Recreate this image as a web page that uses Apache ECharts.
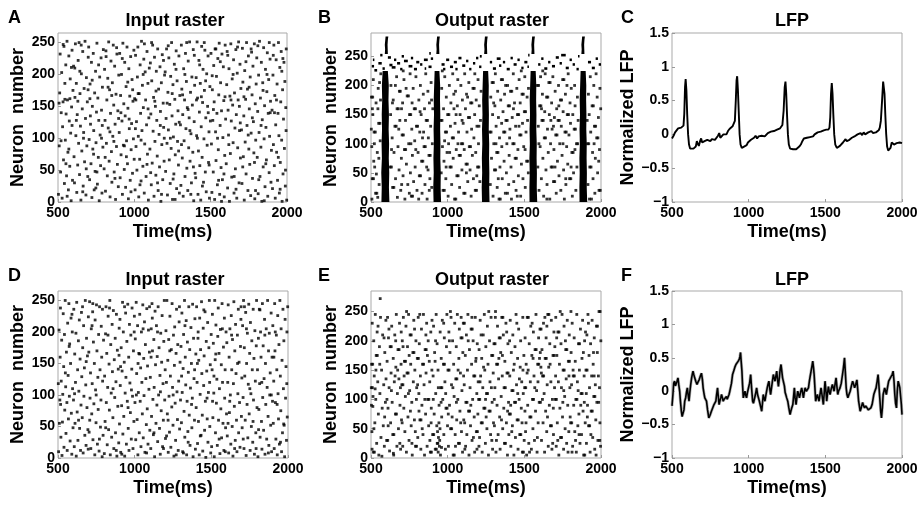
<!DOCTYPE html>
<html>
<head>
<meta charset="utf-8">
<script src="https://cdn.jsdelivr.net/npm/echarts@6/dist/echarts.min.js"></script>
<style>
  html, body { margin: 0; padding: 0; background: #fff; }
  #main { width: 921px; height: 511px; }
</style>
</head>
<body>
<div id="main"></div>
<script>
// spike times, flat [time(ms), neuron, time, neuron, ...]
var inputA = [
503,12,508,88,511,171,514,232,517,47,521,140,524,203,527,6,530,118,533,157,536,66,539,244,542,29,545,186,548,97,551,215,553,138,556,41,559,252,562,160,565,78,568,19,571,229,574,127,577,56,580,193,583,108,586,2,589,149,592,238,595,34,598,175,520,96,545,161,571,83,588,211,507,155,560,9,592,120,534,247,578,162,552,60,
602,213,605,71,608,30,611,164,614,248,617,104,620,186,623,15,626,137,629,58,632,222,635,92,638,250,641,43,644,170,647,119,650,3,653,201,656,80,659,146,662,236,665,25,668,109,671,178,674,63,677,252,680,131,683,11,686,195,689,88,692,157,695,40,698,227,610,210,630,158,652,246,667,100,685,52,643,205,620,128,697,176,662,16,
701,243,704,98,707,35,710,185,713,122,716,60,719,219,722,7,725,150,728,83,731,233,734,112,737,19,740,171,743,48,746,205,749,93,752,141,755,249,758,28,761,163,764,70,767,128,770,2,773,196,776,105,779,57,782,226,785,144,788,14,791,180,794,86,797,239,712,135,733,75,748,22,766,215,785,100,709,162,755,47,790,120,724,191,
802,52,805,208,808,128,811,17,814,237,817,92,820,160,823,41,826,194,829,116,832,251,835,64,838,176,841,8,844,139,847,221,850,79,853,31,856,187,859,103,862,246,865,152,868,47,871,213,874,122,877,4,880,169,883,87,886,232,889,59,892,143,895,24,898,199,815,228,840,110,866,95,884,242,809,70,852,167,873,37,897,131,828,180,
901,109,904,233,907,38,910,167,913,74,916,200,919,127,922,12,925,249,928,89,931,154,934,51,937,219,940,135,943,23,946,181,949,96,952,243,955,60,958,147,961,5,964,209,967,115,970,166,973,34,976,228,979,82,982,123,985,192,988,45,991,158,994,99,997,238,912,140,935,88,957,188,978,16,999,67,921,225,948,71,966,130,989,176,
1002,162,1005,19,1008,230,1011,87,1014,126,1017,50,1020,196,1023,243,1026,103,1029,8,1032,170,1035,67,1038,215,1041,139,1044,33,1047,252,1050,112,1053,183,1056,56,1059,148,1062,224,1065,14,1068,91,1071,204,1074,160,1077,40,1080,121,1083,236,1086,75,1089,186,1092,3,1095,132,1098,210,1010,160,1025,170,1044,97,1066,248,1083,59,1007,115,1037,27,1058,200,1090,146,
1102,83,1105,218,1108,138,1111,27,1114,190,1117,61,1120,246,1123,111,1126,164,1129,9,1132,227,1135,95,1138,150,1141,42,1144,205,1147,128,1150,72,1153,240,1156,18,1159,177,1162,106,1165,55,1168,212,1171,142,1174,1,1177,187,1180,90,1183,231,1186,35,1189,155,1192,117,1195,64,1198,199,1113,250,1134,158,1152,30,1170,120,1191,222,1107,46,1142,174,1178,12,1196,100,
1202,204,1205,48,1208,131,1211,240,1214,92,1217,11,1220,172,1223,113,1226,226,1229,66,1232,153,1235,29,1238,197,1241,84,1244,250,1247,135,1250,4,1253,184,1256,102,1259,44,1262,216,1265,161,1268,74,1271,122,1274,237,1277,21,1280,190,1283,95,1286,143,1289,58,1292,229,1295,14,1298,167,1215,155,1236,100,1254,36,1273,208,1290,80,1222,245,1248,170,1267,4,1294,125,
1302,121,1305,26,1308,246,1311,177,1314,69,1317,137,1320,9,1323,209,1326,96,1329,160,1332,40,1335,233,1338,115,1341,189,1344,53,1347,148,1350,18,1353,221,1356,85,1359,132,1362,251,1365,64,1368,172,1371,107,1374,30,1377,196,1380,152,1383,78,1386,239,1389,2,1392,126,1395,183,1398,45,1309,90,1331,200,1352,145,1370,12,1393,230,1316,168,1343,250,1364,112,1387,55,
1402,38,1405,195,1408,104,1411,251,1414,163,1417,12,1420,80,1423,222,1426,141,1429,57,1432,186,1435,3,1438,118,1441,244,1444,70,1447,156,1450,208,1453,31,1456,99,1459,175,1462,238,1465,47,1468,132,1471,16,1474,201,1477,89,1480,150,1483,229,1486,62,1489,110,1492,6,1495,181,1498,127,1407,160,1428,215,1446,25,1467,190,1484,140,1413,100,1439,165,1458,250,1490,58,
1502,233,1505,91,1508,15,1511,176,1514,128,1517,47,1520,214,1523,157,1526,4,1529,240,1532,110,1535,65,1538,197,1541,139,1544,27,1547,225,1550,82,1553,168,1556,249,1559,12,1562,120,1565,187,1568,54,1571,143,1574,232,1577,35,1580,101,1583,212,1586,159,1589,8,1592,73,1595,246,1598,130,1510,198,1534,240,1552,34,1571,1,1594,165,1518,145,1545,100,1563,220,1587,44,
1602,60,1605,184,1608,236,1611,22,1614,144,1617,105,1620,209,1623,1,1626,166,1629,76,1632,248,1635,127,1638,39,1641,193,1644,152,1647,93,1650,223,1653,14,1656,171,1659,116,1662,52,1665,239,1668,137,1671,6,1674,202,1677,85,1680,160,1683,251,1686,30,1689,112,1692,216,1695,69,1698,178,1612,230,1633,160,1654,40,1676,243,1694,124,1619,90,1647,200,1666,20,1688,150,
1702,113,1705,29,1708,241,1711,188,1714,71,1717,135,1720,3,1723,206,1726,94,1729,161,1732,44,1735,250,1738,120,1741,177,1744,18,1747,229,1750,83,1753,146,1756,59,1759,196,1762,10,1765,108,1768,235,1771,168,1774,37,1777,213,1780,126,1783,77,1786,248,1789,5,1792,154,1795,97,1798,185,1710,55,1731,220,1752,180,1773,132,1794,18,1718,165,1746,105,1765,240,1787,62,
1802,226,1805,70,1808,142,1811,13,1814,199,1817,109,1820,252,1823,40,1826,163,1829,86,1832,219,1835,1,1838,129,1841,187,1844,55,1847,242,1850,99,1853,151,1856,24,1859,208,1862,117,1865,66,1868,173,1871,234,1874,9,1877,139,1880,192,1883,46,1886,103,1889,224,1892,158,1895,31,1898,81,1809,245,1830,120,1851,2,1869,200,1890,140,1815,35,1843,175,1861,60,1884,250,
1902,144,1905,21,1908,199,1911,90,1914,246,1917,57,1920,167,1923,6,1926,121,1929,223,1932,78,1935,185,1938,34,1941,139,1944,250,1947,104,1950,14,1953,211,1956,62,1959,157,1962,236,1965,97,1968,1,1971,176,1974,44,1977,130,1980,219,1983,84,1986,189,1989,25,1992,148,1995,240,1998,3,1910,230,1931,160,1955,20,1973,225,1994,112,1918,140,1943,70,1966,205,1990,50
];

var inputD = [
502,118,504,10,507,203,509,55,512,92,514,160,516,238,519,33,521,122,524,187,526,4,529,57,531,101,534,229,537,145,539,17,542,196,544,76,547,250,550,113,552,39,555,168,558,88,560,12,563,214,566,131,568,62,571,245,574,98,576,181,579,27,582,150,585,222,587,71,590,6,593,200,595,110,598,48,517,85,548,135,573,177,591,228,
601,92,603,236,606,18,609,165,611,55,614,120,617,198,619,3,622,247,625,73,628,140,630,28,633,186,636,106,639,219,641,47,644,157,647,12,650,84,653,231,655,129,658,64,661,175,664,8,667,210,669,98,672,143,675,36,678,250,681,116,683,20,686,190,689,80,692,162,695,45,698,224,608,102,634,60,660,240,684,153,697,14,
701,168,703,41,706,248,709,95,712,135,714,15,717,205,720,70,723,118,726,232,728,29,731,184,734,86,737,150,740,5,742,219,745,108,748,56,751,243,754,170,757,22,760,128,762,77,765,196,768,11,771,240,774,140,777,49,780,92,782,209,785,160,788,2,791,122,794,36,797,187,707,60,727,245,749,100,770,30,790,236,722,210,
802,7,804,130,807,58,810,197,813,240,815,88,818,166,821,21,824,112,827,225,830,45,833,149,835,76,838,250,841,5,844,180,847,103,850,33,853,212,855,137,858,64,861,234,864,15,867,156,870,96,873,190,875,40,878,121,881,228,884,3,887,171,890,82,893,141,896,24,899,206,811,48,836,238,859,110,880,12,898,163,826,195,
901,54,904,220,906,115,909,9,912,175,915,83,918,138,921,247,923,38,926,200,929,66,932,152,935,3,938,103,941,230,943,128,946,22,949,185,952,90,955,244,958,47,961,160,963,12,966,212,969,119,972,72,975,195,978,30,981,141,983,238,986,98,989,15,992,170,995,58,998,225,908,145,934,240,957,80,979,108,997,200,916,6,
1002,88,1004,189,1007,29,1010,247,1013,134,1016,61,1019,210,1021,5,1024,104,1027,166,1030,40,1033,228,1036,90,1039,143,1041,18,1044,200,1047,120,1050,70,1053,243,1056,32,1059,158,1061,99,1064,216,1067,9,1070,180,1073,126,1076,53,1079,237,1082,78,1084,146,1087,22,1090,203,1093,109,1096,168,1099,44,1011,100,1032,165,1055,205,1078,8,1097,240,1022,150,
1102,128,1105,15,1108,205,1110,66,1113,245,1116,170,1119,93,1122,37,1125,188,1127,112,1130,2,1133,233,1136,148,1139,55,1142,210,1145,84,1147,161,1150,26,1153,240,1156,100,1159,175,1162,47,1165,131,1167,6,1170,198,1173,75,1176,152,1179,226,1182,18,1185,118,1187,60,1190,185,1193,250,1196,92,1199,140,1107,160,1126,40,1149,200,1168,105,1188,15,1115,222,
1201,31,1204,202,1207,120,1210,250,1213,70,1216,155,1219,9,1222,188,1224,98,1227,41,1230,225,1233,130,1236,17,1239,172,1242,81,1244,245,1247,112,1250,52,1253,195,1256,3,1259,147,1261,208,1264,87,1267,28,1270,166,1273,236,1276,105,1279,61,1281,180,1284,12,1287,122,1290,216,1293,46,1296,152,1299,92,1208,35,1229,170,1251,100,1271,5,1292,240,1218,60,
1302,177,1305,56,1308,230,1310,104,1313,10,1316,142,1319,196,1322,74,1325,250,1327,33,1330,160,1333,116,1336,218,1339,5,1342,90,1344,184,1347,42,1350,136,1353,240,1356,68,1359,172,1361,20,1364,111,1367,207,1370,150,1373,48,1376,95,1378,244,1381,2,1384,190,1387,126,1390,60,1393,221,1396,14,1399,165,1306,130,1328,210,1349,25,1371,85,1391,140,1318,8,
1401,80,1404,240,1407,120,1410,23,1413,190,1416,58,1418,155,1421,5,1424,222,1427,101,1430,172,1433,36,1436,248,1438,134,1441,68,1444,11,1447,206,1450,115,1453,162,1456,44,1459,232,1461,90,1464,1,1467,185,1470,138,1473,62,1476,215,1478,25,1481,104,1484,175,1487,250,1490,50,1493,148,1496,8,1499,196,1409,150,1428,35,1451,235,1472,95,1489,120,1414,200,
1502,18,1505,140,1507,228,1510,64,1513,182,1516,103,1519,2,1522,250,1525,156,1527,40,1530,211,1533,87,1536,125,1539,20,1542,193,1545,238,1547,60,1550,166,1553,110,1556,7,1559,204,1562,78,1565,148,1567,32,1570,245,1573,120,1576,55,1579,176,1582,12,1585,222,1587,95,1590,140,1593,48,1596,200,1599,70,1508,90,1529,165,1551,30,1572,205,1591,10,1517,130,
1601,183,1604,35,1607,120,1610,243,1613,8,1616,160,1618,72,1621,205,1624,100,1627,22,1630,226,1633,140,1636,50,1638,188,1641,3,1644,118,1647,248,1650,82,1653,170,1656,28,1658,212,1661,134,1664,60,1667,10,1670,195,1673,102,1676,236,1678,40,1681,152,1684,88,1687,17,1690,177,1693,220,1696,66,1699,127,1609,55,1632,195,1652,15,1671,150,1694,240,1620,90,
1701,48,1704,210,1707,96,1710,250,1713,15,1715,175,1718,130,1721,60,1724,231,1727,4,1730,150,1733,85,1735,198,1738,32,1741,117,1744,244,1747,70,1750,166,1753,12,1755,215,1758,102,1761,50,1764,186,1767,140,1770,25,1773,236,1775,92,1778,158,1781,6,1784,202,1787,122,1790,40,1793,178,1795,250,1798,80,1708,30,1729,205,1751,110,1772,58,1792,15,1716,240,
1801,140,1804,2,1807,190,1810,77,1813,236,1815,118,1818,33,1821,200,1824,160,1827,58,1830,14,1833,245,1835,96,1838,178,1841,44,1844,126,1847,220,1850,6,1853,150,1855,85,1858,205,1861,30,1864,112,1867,250,1870,66,1873,170,1875,20,1878,198,1881,100,1884,135,1887,52,1890,230,1893,10,1896,160,1899,90,1808,45,1829,120,1849,195,1872,8,1891,100,1817,235,
1901,210,1904,55,1907,122,1910,15,1913,245,1915,170,1918,88,1921,30,1924,195,1927,140,1930,5,1933,226,1935,102,1938,62,1941,180,1944,22,1947,250,1950,130,1953,75,1955,205,1958,10,1961,155,1964,40,1967,236,1970,110,1973,186,1975,52,1978,2,1981,220,1984,95,1987,145,1990,28,1993,200,1995,65,1998,240,1908,160,1929,85,1951,25,1972,54,1992,118,1917,200
];

// output raster B: background spikes (0-225), bursts in 225-255, synchronous volleys
var outputB = [
503,180,511,180,505,95,508,40,516,40,512,150,515,210,520,120,528,120,524,60,530,15,538,15,533,170,541,85,547,195,550,135,558,135,553,30,560,105,564,220,506,5,518,70,535,48,545,160,556,205,502,125,509,160,522,100,544,8,551,75,562,175,
625,60,633,60,628,150,630,200,638,110,641,25,649,25,645,175,650,85,656,130,664,130,660,40,667,215,670,160,678,160,672,8,676,95,683,55,685,190,691,190,688,140,694,20,698,75,703,115,711,115,706,170,709,45,715,210,718,90,726,90,721,5,725,140,731,65,736,182,744,182,740,30,746,100,751,150,759,150,755,220,757,50,763,10,771,10,766,125,770,80,775,195,778,35,782,160,790,160,785,105,788,60,793,215,796,130,804,130,800,20,807,85,812,175,815,45,823,45,818,120,822,200,827,150,830,70,838,70,833,15,836,110,841,185,846,95,854,95,849,160,852,30,857,220,860,140,868,140,863,60,866,5,871,190,874,110,878,80,886,80,881,170,884,40,889,130,892,205,896,25,900,100,903,160,634,90,659,200,681,125,699,160,729,195,750,15,768,170,792,90,811,5,843,120,872,55,895,175,640,170,700,30,760,100,820,155,880,20,710,225,
955,140,963,140,958,50,961,195,966,95,970,20,978,20,973,160,976,70,981,215,985,120,993,120,988,40,991,180,996,85,1000,150,1008,150,1003,10,1006,100,1011,200,1015,60,1023,60,1018,130,1021,170,1026,30,1030,110,1038,110,1033,220,1036,75,1041,160,1045,5,1053,5,1048,135,1051,190,1056,90,1060,45,1068,45,1063,165,1066,210,1071,120,1075,80,1083,80,1078,25,1081,150,1086,200,1090,100,1098,100,1093,55,1096,175,1101,135,1105,15,1113,15,1108,90,1111,220,1116,160,1120,65,1128,65,1123,185,1126,120,1131,35,1135,145,1143,145,1138,205,1141,95,1146,55,1150,170,1158,170,1153,10,1156,125,1161,80,1165,195,1173,195,1168,40,1171,110,1176,150,1180,20,1188,20,1183,85,1186,175,1191,130,1195,60,1203,60,1198,210,1201,100,1206,165,1210,35,1214,140,1218,190,965,225,990,60,1013,85,1040,185,1067,100,1094,140,1122,50,1149,95,1177,220,1204,130,980,105,1055,150,1130,180,1190,45,
1275,120,1283,120,1278,30,1281,180,1286,75,1290,205,1298,205,1293,150,1296,10,1301,100,1305,55,1313,55,1308,165,1311,220,1316,130,1320,85,1328,85,1323,25,1326,190,1331,145,1335,5,1343,5,1338,110,1341,60,1346,175,1350,210,1358,210,1353,95,1356,40,1361,155,1365,120,1373,120,1368,70,1371,185,1376,15,1380,140,1388,140,1383,50,1386,100,1391,200,1395,165,1403,165,1398,30,1401,80,1406,125,1410,190,1418,190,1413,60,1416,5,1421,145,1425,100,1433,100,1428,220,1431,35,1436,170,1440,75,1448,75,1443,130,1446,20,1451,195,1455,150,1463,150,1458,90,1461,45,1466,210,1470,115,1478,115,1473,170,1476,10,1481,65,1485,185,1493,185,1488,135,1491,40,1496,95,1500,155,1508,155,1503,215,1506,25,1511,120,1515,70,1523,70,1518,180,1521,140,1526,50,1300,170,1330,40,1352,135,1378,200,1404,110,1429,160,1454,10,1480,225,1505,90,1527,195,1315,100,1390,15,1465,130,
1585,200,1593,200,1588,60,1591,130,1596,20,1600,165,1608,165,1603,95,1606,215,1611,40,1615,140,1623,140,1618,185,1621,75,1626,10,1630,110,1638,110,1633,155,1636,220,1641,55,1645,180,1653,180,1648,30,1651,125,1656,85,1660,205,1668,205,1663,150,1666,5,1671,100,1675,60,1683,60,1678,170,1681,125,1686,215,1690,35,1698,35,1693,90,1696,145,1701,190,1705,115,1713,115,1708,15,1711,160,1716,70,1720,140,1728,140,1723,200,1726,45,1731,100,1735,175,1743,175,1738,20,1741,130,1746,80,1750,210,1758,210,1753,155,1756,55,1761,5,1765,120,1773,120,1768,185,1771,30,1776,95,1780,150,1788,150,1783,65,1786,220,1791,115,1795,40,1803,40,1798,170,1801,135,1806,195,1810,85,1818,85,1813,10,1816,150,1821,50,1825,125,1833,125,1828,200,1831,165,1836,20,1840,100,1848,100,1843,60,1846,180,1851,140,1595,100,1620,225,1647,5,1673,140,1700,60,1725,165,1752,100,1778,200,1805,60,1830,90,1612,160,1690,130,1770,40,
1912,100,1920,100,1915,30,1918,185,1923,150,1927,60,1935,60,1930,215,1933,120,1938,5,1942,165,1950,165,1945,85,1948,40,1953,200,1957,130,1965,130,1960,15,1963,75,1968,220,1972,110,1980,110,1975,180,1978,50,1983,145,1987,20,1995,20,1990,90,1993,195,1998,160,1925,5,1955,100,1985,70,1910,140
];

// short bursts in B: [start ms, end ms, neuron]
var dashB = [
[505,520,233],[522,540,226],[512,522,244],[548,570,238],[575,590,229],[610,630,248],[620,640,235],[635,660,231],[650,665,244],[670,690,238],[690,705,228],[700,715,250],[715,740,242],[745,770,233],[760,775,247],[780,800,228],[795,815,240],[820,835,236],[845,870,244],[850,860,229],[875,895,232],[890,905,246],
[960,980,236],[970,985,228],[990,1010,244],[1015,1035,232],[1040,1060,240],[1050,1065,228],[1070,1090,247],[1095,1115,234],[1120,1135,242],[1140,1155,228],[1165,1180,238],[1185,1200,247],[1205,1220,232],
[1275,1290,240],[1295,1315,229],[1320,1345,246],[1335,1350,234],[1360,1375,240],[1385,1405,228],[1410,1425,247],[1430,1450,236],[1455,1470,244],[1480,1495,230],[1500,1520,240],[1520,1530,232],
[1590,1605,236],[1610,1625,246],[1630,1650,229],[1655,1670,240],[1680,1700,233],[1705,1725,248],[1730,1745,238],[1740,1770,252],[1770,1790,230],[1795,1810,244],[1815,1830,236],[1840,1855,228],
[1915,1935,240],[1940,1960,230],[1965,1980,246],[1985,2000,236],[560,575,252],[880,890,255],[1210,1222,250],[1525,1534,252],[1850,1860,250]
];

// synchronous volleys in B: left / right edge (ms) at each neuron level
var volleyN = [0, 25, 50, 75, 100, 125, 150, 175, 200, 225];
var volleyLeft = [
  [568,570,567,571,569,572,570,573,571,576],
  [908,906,909,907,910,908,911,909,912,915],
  [1224,1222,1225,1223,1226,1224,1227,1225,1228,1231],
  [1534,1533,1535,1533,1536,1534,1537,1535,1538,1541],
  [1860,1859,1861,1859,1862,1860,1863,1861,1864,1867]
];
var volleyRight = [
  [620,617,619,616,618,615,617,614,616,610],
  [957,954,955,952,953,951,952,950,951,946],
  [1273,1271,1272,1270,1271,1268,1269,1267,1268,1264],
  [1584,1581,1582,1580,1581,1578,1579,1577,1578,1574],
  [1910,1907,1908,1906,1907,1904,1905,1903,1904,1900]
];
// volleys of the top group (neurons above 254)
var burstN = [254, 262, 270, 278, 284];
var burstLeft = [
  [590,592,590,593,595], [926,928,926,929,931], [1238,1240,1238,1241,1243], [1546,1548,1546,1549,1551], [1872,1874,1872,1875,1877]
];
var burstRight = [
  [610,609,608,610,613], [946,945,944,946,949], [1258,1257,1256,1258,1261], [1566,1565,1564,1566,1569], [1892,1891,1890,1892,1895]
];

var outputE = [
502,120,509,120,504,160,511,160,506,45,508,230,512,88,515,10,522,10,518,200,521,140,525,60,528,245,531,100,534,175,541,175,537,25,540,215,544,130,548,75,551,5,555,190,558,110,562,240,565,35,560,272,569,150,573,85,576,210,580,55,583,125,587,20,590,180,594,95,597,235,503,90,507,15,513,105,519,50,532,150,546,225,557,160,571,3,585,205,598,135,527,118,589,70,
602,30,609,30,605,165,608,240,611,85,614,205,618,120,621,12,625,190,632,190,628,60,631,145,635,225,638,95,642,40,649,40,645,170,648,5,652,130,655,210,659,75,666,75,662,155,665,245,669,20,672,110,676,185,683,185,679,50,682,135,686,230,689,90,693,15,696,160,699,65,604,100,617,220,633,115,646,8,661,200,674,150,688,25,697,215,612,55,657,140,692,120,
701,125,708,125,704,200,707,20,711,240,714,85,718,165,725,165,721,45,724,105,728,225,731,10,735,145,742,145,738,190,741,70,745,245,748,30,752,115,755,210,762,210,759,160,762,55,766,95,769,5,773,180,780,180,776,130,779,235,783,65,786,150,790,20,797,20,793,200,796,100,703,60,716,140,732,250,749,175,767,25,784,220,798,120,709,190,757,80,789,45,744,110,
802,170,809,170,805,35,808,240,812,110,815,195,819,65,826,65,822,140,825,15,829,220,832,90,836,160,843,160,839,40,842,245,846,125,849,5,853,185,860,185,856,75,859,145,863,230,866,20,870,100,877,100,873,200,876,55,880,165,883,130,887,10,894,10,890,215,893,85,897,150,804,125,818,245,834,50,851,100,868,175,884,30,898,235,813,80,858,210,892,60,
902,40,909,40,905,140,908,225,912,75,915,180,919,15,926,15,922,110,925,245,929,55,932,25,936,25,934,45,938,10,940,35,943,60,946,20,950,50,953,5,948,30,931,195,937,150,944,90,951,215,955,120,962,120,958,170,961,70,965,235,968,100,972,160,979,160,975,40,978,205,982,130,985,15,989,85,996,85,992,190,995,245,999,55,906,100,921,200,957,95,974,230,987,110,939,120,960,18,918,165,
1002,150,1009,150,1005,20,1008,215,1012,90,1015,180,1019,50,1026,50,1022,240,1025,125,1029,70,1032,200,1036,5,1043,5,1039,160,1042,105,1046,230,1049,40,1053,135,1060,135,1056,190,1059,65,1063,245,1066,100,1070,25,1077,25,1073,170,1076,220,1080,80,1083,145,1087,205,1094,205,1090,45,1093,115,1097,10,1004,75,1018,250,1034,120,1051,20,1068,150,1085,60,1099,180,1011,200,1057,95,1088,240,
1102,230,1109,230,1105,65,1108,125,1112,15,1115,175,1119,95,1126,95,1122,210,1125,40,1129,150,1132,245,1136,80,1143,80,1139,5,1142,185,1146,120,1149,55,1153,220,1160,220,1156,160,1159,30,1163,100,1166,200,1170,140,1177,140,1173,70,1176,10,1180,240,1183,165,1187,45,1194,45,1190,110,1193,195,1197,75,1104,140,1117,20,1134,200,1151,90,1168,35,1185,170,1199,130,1111,60,1158,240,1191,15,
1202,100,1209,100,1205,185,1208,35,1212,235,1215,140,1219,60,1226,60,1222,170,1225,10,1229,120,1232,210,1236,85,1243,85,1239,245,1242,150,1246,25,1249,190,1253,110,1260,110,1256,50,1259,225,1263,160,1266,5,1270,80,1277,80,1273,200,1276,130,1280,40,1283,240,1287,175,1294,175,1290,95,1293,15,1297,145,1204,20,1218,210,1234,155,1251,70,1268,250,1285,120,1299,60,1211,130,1247,100,1288,30,
1302,195,1309,195,1305,55,1308,120,1312,250,1315,10,1319,160,1326,160,1322,90,1325,225,1329,40,1332,135,1336,205,1343,205,1339,70,1342,15,1346,180,1349,105,1353,240,1360,240,1356,140,1359,50,1363,210,1366,85,1370,25,1377,25,1373,165,1376,120,1380,230,1383,60,1387,145,1394,145,1390,5,1393,195,1397,95,1304,100,1318,30,1334,170,1351,65,1368,120,1385,215,1399,40,1311,240,1357,175,1391,80,
1402,75,1409,75,1405,140,1408,235,1412,20,1415,180,1419,115,1426,115,1422,55,1425,210,1429,150,1432,5,1436,95,1443,95,1439,190,1442,35,1446,245,1449,125,1453,65,1460,65,1456,170,1459,15,1463,220,1466,100,1470,40,1477,40,1473,155,1476,200,1480,85,1483,130,1487,10,1494,10,1490,240,1493,110,1497,175,1404,200,1418,45,1434,160,1451,230,1468,135,1485,60,1499,30,1411,90,1457,110,1491,150,
1502,120,1509,120,1505,205,1508,45,1512,160,1515,5,1519,240,1526,240,1522,90,1525,150,1529,25,1532,195,1536,70,1543,70,1539,130,1542,225,1546,15,1549,175,1553,100,1560,100,1556,50,1559,215,1563,140,1566,30,1570,185,1577,185,1573,80,1576,245,1580,115,1583,10,1587,160,1594,160,1590,60,1593,205,1597,95,1504,80,1518,145,1534,10,1551,230,1568,120,1585,35,1599,170,1511,60,1557,170,1589,130,
1602,220,1609,220,1605,95,1608,155,1612,30,1615,185,1619,140,1626,140,1622,60,1625,230,1629,110,1632,10,1636,170,1643,170,1639,80,1642,205,1646,45,1649,125,1653,245,1660,245,1656,20,1659,155,1663,90,1666,195,1670,55,1677,55,1673,130,1676,235,1680,15,1683,100,1687,175,1694,175,1690,40,1693,215,1697,120,1604,180,1618,100,1634,240,1651,70,1668,160,1685,25,1699,190,1611,145,1647,225,1689,85,
1702,100,1709,100,1705,240,1708,20,1712,175,1715,60,1719,215,1726,215,1722,130,1725,5,1729,160,1732,85,1736,35,1743,35,1739,195,1742,120,1746,245,1749,70,1753,150,1760,150,1756,15,1759,225,1763,105,1766,50,1770,185,1777,185,1773,135,1776,25,1780,235,1783,90,1787,165,1794,165,1790,45,1793,210,1797,120,1704,140,1718,30,1734,250,1751,95,1768,200,1785,10,1799,70,1711,205,1757,115,1791,140,
1802,60,1809,60,1805,180,1808,125,1812,230,1815,20,1819,140,1826,140,1822,90,1825,205,1829,45,1832,165,1836,100,1843,100,1839,10,1842,245,1846,130,1849,55,1853,195,1860,195,1856,75,1859,150,1863,25,1866,220,1870,110,1877,110,1873,40,1876,170,1880,235,1883,80,1887,5,1894,5,1890,140,1893,200,1897,60,1804,250,1818,150,1834,30,1851,115,1868,90,1885,180,1899,215,1811,10,1857,40,1891,95,
1902,150,1909,150,1905,25,1908,210,1912,90,1915,245,1919,55,1926,55,1922,175,1925,120,1929,10,1932,195,1936,80,1943,80,1939,140,1942,235,1946,35,1949,160,1953,105,1960,105,1956,205,1959,15,1963,125,1966,65,1970,225,1977,225,1973,95,1976,180,1980,30,1983,140,1987,250,1994,250,1990,120,1993,60,1997,20,1904,110,1918,230,1934,40,1951,180,1968,5,1985,95,1999,200,1911,70,1955,140,1992,30
];

// LFP traces, flat [time, value, ...]
var lfpC = [
500,-0.06,510,-0.02,520,0.03,530,0.06,540,0.09,550,0.1,560,0.1,568,0.11,575,0.13,580,0.3,585,0.7,589,0.82,594,0.65,599,0.3,605,0.0,611,-0.15,618,-0.21,630,-0.22,640,-0.21,648,-0.22,655,-0.18,662,-0.1,668,-0.14,675,-0.17,683,-0.1,690,-0.06,697,-0.12,705,-0.14,712,-0.1,720,-0.12,730,-0.08,740,-0.06,750,-0.1,760,-0.07,770,-0.05,780,-0.08,790,-0.06,800,-0.02,808,0.02,815,-0.05,825,-0.03,835,0.0,845,0.02,855,0.0,865,0.05,875,0.08,885,0.1,895,0.12,902,0.13,910,0.2,916,0.5,921,0.8,925,0.86,930,0.65,935,0.35,941,0.0,947,-0.15,955,-0.2,963,-0.22,970,-0.18,978,-0.2,987,-0.16,995,-0.12,1005,-0.13,1015,-0.08,1025,-0.1,1035,-0.05,1045,-0.02,1055,-0.06,1065,-0.03,1075,-0.05,1085,-0.02,1095,0.0,1105,-0.03,1115,-0.02,1125,0.02,1135,0.0,1145,0.04,1155,0.02,1165,0.05,1175,0.03,1185,0.07,1195,0.06,1205,0.09,1212,0.1,1220,0.14,1228,0.35,1235,0.7,1240,0.78,1245,0.6,1250,0.3,1256,0.0,1262,-0.15,1270,-0.21,1280,-0.22,1290,-0.22,1300,-0.21,1310,-0.22,1320,-0.2,1330,-0.18,1340,-0.15,1350,-0.1,1360,-0.06,1370,-0.05,1380,-0.05,1390,-0.03,1400,-0.04,1410,-0.02,1420,-0.03,1430,0.0,1440,-0.02,1450,0.03,1460,0.01,1470,0.04,1480,0.02,1490,0.06,1500,0.04,1506,0.07,1512,0.05,1520,0.07,1527,0.1,1532,0.25,1537,0.6,1542,0.76,1547,0.6,1552,0.3,1558,0.0,1565,-0.15,1575,-0.2,1585,-0.19,1595,-0.17,1605,-0.16,1615,-0.12,1625,-0.1,1632,-0.07,1640,-0.1,1648,-0.12,1657,-0.08,1665,-0.1,1673,-0.05,1682,-0.07,1690,-0.03,1700,-0.05,1710,0.0,1720,-0.02,1730,0.02,1740,-0.01,1750,0.03,1760,0.0,1770,0.02,1780,0.03,1790,0.02,1800,0.05,1810,0.02,1820,0.04,1830,0.03,1840,0.05,1848,0.06,1855,0.1,1862,0.2,1870,0.5,1877,0.78,1881,0.8,1886,0.6,1891,0.3,1897,0.0,1903,-0.18,1910,-0.24,1918,-0.26,1925,-0.2,1933,-0.12,1940,-0.1,1948,-0.15,1956,-0.17,1965,-0.13,1975,-0.14,1985,-0.12,2000,-0.13
];
var lfpF = [
500,-0.22,506,-0.05,511,0.12,517,0.15,522,0.08,528,0.07,533,0.15,539,0.2,544,0.1,550,0.0,555,-0.15,561,-0.3,566,-0.38,572,-0.4,578,-0.28,583,-0.15,589,-0.1,594,-0.02,600,0.05,605,-0.05,611,-0.15,616,-0.02,622,0.1,628,0.2,633,0.26,637,0.3,642,0.25,648,0.2,655,0.15,663,0.1,670,0.14,677,0.17,684,0.22,692,0.27,698,0.18,703,0.05,709,-0.04,714,-0.1,720,-0.12,725,-0.15,732,-0.28,740,-0.4,748,-0.36,757,-0.3,762,-0.27,768,-0.25,774,-0.2,780,-0.18,786,-0.15,791,-0.05,797,0.05,802,-0.08,807,-0.2,813,-0.14,818,-0.1,823,-0.05,829,-0.1,834,-0.15,840,-0.12,845,-0.1,849,-0.1,855,-0.08,860,-0.12,866,-0.12,872,-0.05,877,0.0,882,0.0,888,0.12,895,0.25,902,0.3,910,0.36,917,0.4,925,0.42,932,0.45,939,0.48,943,0.52,947,0.58,951,0.45,956,0.3,960,0.1,965,-0.1,970,-0.05,976,0.0,981,-0.06,986,-0.1,992,-0.02,997,0.03,1000,0.05,1006,0.12,1013,0.25,1019,0.05,1026,-0.15,1031,-0.18,1037,-0.2,1044,-0.05,1052,0.05,1058,-0.05,1064,-0.1,1070,-0.15,1077,-0.22,1085,-0.3,1090,-0.18,1095,-0.05,1100,-0.1,1106,-0.15,1113,-0.05,1121,0.05,1126,0.1,1132,0.15,1137,0.05,1143,-0.05,1149,0.05,1155,0.15,1161,0.25,1166,0.2,1172,0.15,1177,0.22,1183,0.3,1188,0.18,1194,0.07,1200,0.2,1205,0.32,1211,0.4,1216,0.3,1221,0.2,1227,0.2,1233,0.08,1238,-0.02,1242,-0.05,1248,-0.1,1255,-0.15,1262,-0.25,1270,-0.35,1275,-0.3,1281,-0.25,1288,-0.2,1293,-0.08,1298,0.05,1303,-0.1,1309,-0.2,1315,-0.08,1320,0.0,1326,-0.05,1331,-0.1,1338,-0.02,1346,0.05,1352,-0.03,1357,-0.1,1362,-0.02,1368,0.05,1376,0.0,1385,-0.02,1390,0.05,1396,0.15,1401,0.22,1407,0.3,1413,0.38,1418,0.45,1423,0.35,1427,0.25,1432,0.05,1437,-0.15,1442,-0.1,1448,-0.05,1453,-0.1,1459,-0.15,1465,-0.05,1472,0.05,1480,-0.08,1487,-0.2,1492,-0.05,1498,0.15,1504,0.0,1509,-0.15,1515,-0.02,1520,0.07,1525,0.0,1531,-0.05,1538,0.03,1546,0.1,1552,0.05,1557,0.0,1563,0.1,1570,0.2,1575,0.08,1581,-0.05,1586,0.0,1596,0.05,1604,0.12,1612,0.25,1618,0.35,1625,0.5,1630,0.3,1636,0.05,1641,-0.05,1647,-0.1,1654,-0.05,1662,0.0,1670,0.08,1678,0.15,1685,0.1,1691,0.05,1698,0.1,1706,0.17,1712,0.0,1717,-0.15,1722,-0.22,1727,-0.3,1734,-0.25,1743,-0.17,1750,-0.22,1756,-0.25,1763,-0.22,1772,-0.25,1780,-0.28,1789,-0.3,1797,-0.25,1805,-0.2,1811,-0.12,1816,-0.05,1823,0.0,1831,0.05,1838,0.15,1844,0.25,1849,0.1,1855,-0.1,1861,-0.3,1866,-0.4,1872,-0.25,1877,-0.05,1882,0.0,1887,0.05,1893,0.0,1898,-0.05,1905,0.05,1913,0.15,1920,0.18,1929,0.2,1936,0.25,1942,0.3,1948,0.15,1953,-0.05,1958,-0.18,1964,-0.25,1969,0.0,1975,0.15,1981,0.1,1986,0.05,1992,-0.1,1996,-0.2,2000,-0.35
];

var timeTicks = [500, 1000, 1500, 2000];

function pairs(flat) {
  var out = [];
  for (var i = 0; i < flat.length; i += 2) out.push([flat[i], flat[i + 1]]);
  return out;
}

var FONT = "'Liberation Sans', Arial, Helvetica, sans-serif";
var myChart = echarts.init(document.getElementById('main'), null, {renderer: 'canvas'});

var grids = [
  {left: 58, top: 33, width: 229, height: 169},
  {left: 371, top: 33, width: 230, height: 169},
  {left: 672, top: 33, width: 230, height: 169},
  {left: 58, top: 291, width: 230, height: 167},
  {left: 371, top: 291, width: 230, height: 167},
  {left: 672, top: 291, width: 230, height: 167}
];
grids.forEach(function (g) {
  g.show = true;
  g.borderColor = '#a9a9a9';
  g.borderWidth = 1;
  g.backgroundColor = '#fff';
});

var labelStyle = {color: '#000', fontFamily: FONT, fontWeight: 'bold', fontSize: 14};
var nameStyle = {color: '#000', fontFamily: FONT, fontWeight: 'bold', fontSize: 18};
var tickStyle = {show: true, inside: true, length: 3, lineStyle: {color: '#999'}};

function xAxisFor(i) {
  return {
    gridIndex: i, type: 'value', min: timeTicks[0], max: timeTicks[timeTicks.length - 1], interval: 500,
    name: 'Time(ms)', nameLocation: 'middle', nameGap: 21, nameTextStyle: nameStyle,
    axisLine: {show: false, onZero: false},
    axisTick: tickStyle,
    axisLabel: Object.assign({margin: 4, formatter: function (v) { return String(v); }}, labelStyle),
    splitLine: {show: false}
  };
}
function yRaster(i, max) {
  return {
    gridIndex: i, type: 'value', min: 0, max: max, interval: 50,
    name: 'Neuron  number', nameLocation: 'middle', nameGap: 31, nameTextStyle: nameStyle,
    axisLine: {show: false, onZero: false},
    axisTick: tickStyle,
    axisLabel: Object.assign({margin: 3, showMaxLabel: false}, labelStyle),
    splitLine: {show: false}
  };
}
function yLfp(i) {
  return {
    gridIndex: i, type: 'value', min: -1, max: 1.5, interval: 0.5,
    name: 'Normalized LFP', nameLocation: 'middle', nameGap: 30, nameTextStyle: nameStyle,
    axisLine: {show: false, onZero: false},
    axisTick: tickStyle,
    axisLabel: Object.assign({
      margin: 3,
      formatter: function (v) { return v < 0 ? '\u2212' + Math.abs(v) : String(v); }
    }, labelStyle),
    splitLine: {show: false}
  };
}

function titleAt(text, x, y, size) {
  return {text: text, left: x, top: y, textAlign: 'center',
    textStyle: {fontFamily: FONT, fontWeight: 'bold', fontSize: size, color: '#000'}};
}
function letterAt(text, x, y) {
  return {text: text, left: x, top: y,
    textStyle: {fontFamily: FONT, fontWeight: 'bold', fontSize: 18, color: '#000'}};
}

var dotStyle = {color: '#000'};
function raster(i, flat) {
  return {type: 'scatter', xAxisIndex: i, yAxisIndex: i, data: pairs(flat),
    symbol: 'rect', symbolSize: 2.8, itemStyle: dotStyle, silent: true};
}

// shapes for the B volleys: [neuron levels, left edges, right edges]
var volleys = [];
volleyLeft.forEach(function (l, k) { volleys.push([volleyN, l, volleyRight[k]]); });
burstLeft.forEach(function (l, k) { volleys.push([burstN, l, burstRight[k]]); });

var option = {
  animation: false,
  backgroundColor: '#fff',
  title: [
    letterAt('A', 3, 4), letterAt('B', 313, 4), letterAt('C', 616, 4),
    letterAt('D', 3, 262), letterAt('E', 313, 262), letterAt('F', 616, 262),
    titleAt('Input raster', 170, 7, 18), titleAt('Output raster', 487, 7, 18), titleAt('LFP', 787, 7, 18),
    titleAt('Input raster', 170, 266, 18), titleAt('Output raster', 487, 266, 18), titleAt('LFP', 787, 266, 18)
  ],
  grid: grids,
  xAxis: [0, 1, 2, 3, 4, 5].map(xAxisFor),
  yAxis: [yRaster(0, 265), yRaster(1, 290), yLfp(2), yRaster(3, 265), yRaster(4, 285), yLfp(5)],
  series: [
    raster(0, inputA),
    raster(1, outputB),
    {
      type: 'custom', xAxisIndex: 1, yAxisIndex: 1, silent: true,
      data: volleys.map(function (v, k) { return [k]; }),
      encode: {x: 0},
      renderItem: function (params, api) {
        var v = volleys[api.value(0)];
        var pts = [];
        for (var i = 0; i < v[0].length; i++) pts.push(api.coord([v[1][i], v[0][i]]));
        for (var j = v[0].length - 1; j >= 0; j--) pts.push(api.coord([v[2][j], v[0][j]]));
        return {type: 'polygon', shape: {points: pts}, style: {fill: '#000'}};
      }
    },
    {
      type: 'custom', xAxisIndex: 1, yAxisIndex: 1, silent: true,
      data: dashB, encode: {x: [0, 1], y: 2},
      renderItem: function (params, api) {
        var a = api.coord([api.value(0), api.value(2)]);
        var b = api.coord([api.value(1), api.value(2)]);
        return {type: 'rect', shape: {x: a[0], y: a[1] - 1.3, width: b[0] - a[0], height: 2.6}, style: {fill: '#000'}};
      }
    },
    {type: 'line', xAxisIndex: 2, yAxisIndex: 2, data: pairs(lfpC), showSymbol: false,
      lineStyle: {color: '#000', width: 1.9}, silent: true},
    raster(3, inputD),
    raster(4, outputE),
    {type: 'line', xAxisIndex: 5, yAxisIndex: 5, data: pairs(lfpF), showSymbol: false,
      lineStyle: {color: '#b5b5b5', width: 3}, silent: true},
    {type: 'line', xAxisIndex: 5, yAxisIndex: 5, data: pairs(lfpF), showSymbol: false,
      lineStyle: {color: '#000', width: 1.6}, silent: true}
  ]
};

myChart.setOption(option);
window.addEventListener('resize', function () {
  myChart.resize();
});
</script>
</body>
</html>
